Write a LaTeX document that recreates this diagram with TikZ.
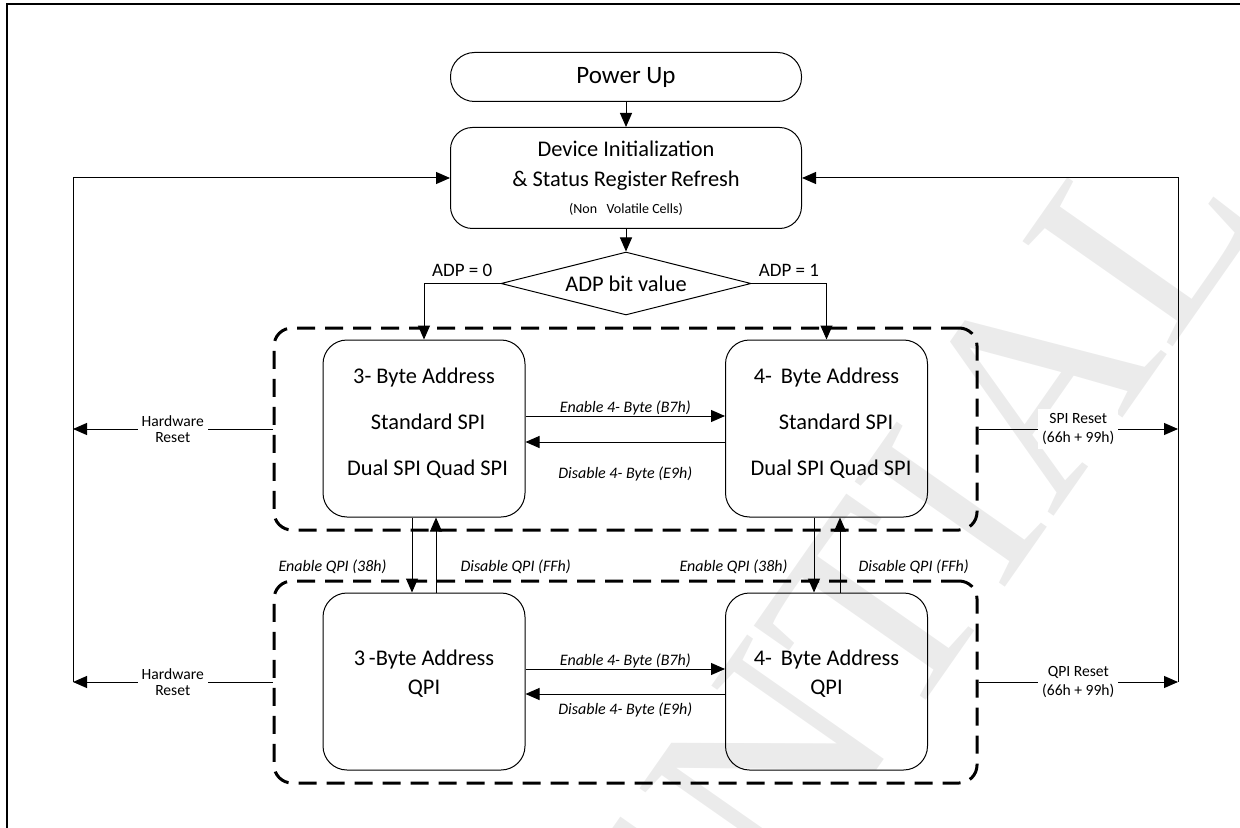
\documentclass[tikz,border=0pt]{standalone}
\usepackage{fontspec}
\setmainfont{Carlito}
\newfontfamily\wmfont{Liberation Serif}
\usetikzlibrary{arrows.meta,shapes.geometric}

\begin{document}
\begin{tikzpicture}[x=0.5pt, y=-0.5pt, line width=0.5pt,
  arr/.style={-{Triangle[length=7pt,width=6pt]}},
  mode/.style={rectangle, draw, rounded corners=12pt, minimum width=101pt, minimum height=88.5pt},
  mtext/.style={align=center, font=\fontsize{11.2}{13.5}\selectfont},
  group/.style={rectangle, draw, line width=1.5pt, dash pattern=on 9pt off 5pt, rounded corners=9pt, minimum width=351.5pt, minimum height=101pt},
  lbl/.style={font=\itshape\fontsize{8}{9.5}\selectfont, inner sep=0pt},
  rst/.style={fill=white, align=center, inner sep=2pt, font=\fontsize{7.8}{9.8}\selectfont}]

\useasboundingbox (0,0) rectangle (1240,828);

\node [rotate=55, anchor=base east, text=black!8, font=\wmfont\fontsize{140}{140}\selectfont] (wmark) at (1271,207) {CONFIDENTIAL};

% frame
\draw [line width=1pt] (7,828) -- (7,4) -- (1240,4);

\node [rectangle, draw, rounded corners=12pt, minimum width=175.5pt, minimum height=24.5pt, font=\fontsize{12.5}{15}\selectfont] (power) at (626,77) {Power Up};
\node [rectangle, draw, rounded corners=11pt, minimum width=175.5pt, minimum height=50.5pt, align=center, font=\fontsize{11.2}{15}\selectfont] (init) at (626,178) {Device Initialization\\\& Status Register\,Refresh\\[-1.5pt]{\fontsize{7}{8}\selectfont (Non\ \ \ Volatile Cells)}};
\node [diamond, draw, aspect=4, inner sep=0pt, minimum width=125pt, minimum height=31.5pt, font=\fontsize{11.2}{13.5}\selectfont] (adp) at (626,283.5) {ADP bit value};

\node [group] (grpspi) at (625.5,429) {};
\node [group] (grpqpi) at (625.5,682) {};

\node [mode, label={[mtext, yshift=2.75pt]center:3- Byte Address\\[9.5pt]\hspace*{4pt}Standard SPI\\[9.5pt]\hspace*{3.5pt}Dual SPI Quad SPI}] (spi3) at (424,428.5) {};
\node [mode, label={[mtext, yshift=2.75pt]center:4-\ \,Byte Address\\[9.5pt]\hspace*{9.5pt}Standard SPI\\[9.5pt]\hspace*{4.5pt}Dual SPI Quad SPI}] (spi4) at (826.5,428.5) {};
\node [mode, label={[mtext, yshift=4pt]center:3\,-Byte Address\\[1pt]QPI}] (qpi3) at (424,681.5) {};
\node [mode, label={[mtext, yshift=4pt]center:4-\ \,Byte Address\\[1pt]QPI}] (qpi4) at (826.5,681.5) {};

\coordinate (lb) at (73,682);
\coordinate (rb) at (1178,682);

\draw [arr] (power) -- (init);
\draw [arr] (init) -- (adp);
\draw [arr] (adp.west) -| (spi3.north) node [pos=0.25, above, font=\fontsize{9.5}{11}\selectfont] {ADP = 0};
\draw [arr] (adp.east) -| (spi4.north) node [pos=0.25, above, font=\fontsize{9.5}{11}\selectfont] {ADP = 1};

\draw [arr] ([yshift=6.25pt]spi3.east) -- ([yshift=6.25pt]spi4.west) node [midway, above, lbl] {Enable 4-\ Byte (B7h)};
\draw [arr] ([yshift=-6.75pt]spi4.west) -- ([yshift=-6.75pt]spi3.east) node [midway, below=12pt, lbl] {Disable 4-\ Byte (E9h)};
\draw [arr] ([yshift=6.25pt]qpi3.east) -- ([yshift=6.25pt]qpi4.west) node [midway, above, lbl] {Enable 4-\ Byte (B7h)};
\draw [arr] ([yshift=-6.25pt]qpi4.west) -- ([yshift=-6.25pt]qpi3.east) node [midway, below=4pt, lbl] {Disable 4-\ Byte (E9h)};

\draw [arr] ([xshift=-6pt]spi3.south) -- ([xshift=-6pt]qpi3.north) node [pos=0.66, left=12.5pt, lbl] {Enable QPI (38h)};
\draw [arr] ([xshift=6pt]qpi3.north) -- ([xshift=6pt]spi3.south) node [pos=0.34, right=12pt, lbl] {Disable QPI (FFh)};
\draw [arr] ([xshift=-6.25pt]spi4.south) -- ([xshift=-6.25pt]qpi4.north) node [pos=0.66, left=13pt, lbl] {Enable QPI (38h)};
\draw [arr] ([xshift=6.75pt]qpi4.north) -- ([xshift=6.75pt]spi4.south) node [pos=0.34, right=9pt, lbl] {Disable QPI (FFh)};

\draw [arr] (lb) |- (init.west);
\draw [arr] (rb) |- (init.east);
\draw [arr] (grpspi.west) -- (grpspi.west -| lb) node [midway, rst] {Hardware\\[-1.5pt]Reset};
\draw [arr] (grpqpi.west) -- (grpqpi.west -| lb) node [midway, rst] {Hardware\\[-1.5pt]Reset};
\draw [arr] (grpspi.east) -- (grpspi.east -| rb) node [midway, rst] {SPI Reset\\(66h + 99h)};
\draw [arr] (grpqpi.east) -- (grpqpi.east -| rb) node [midway, rst] {QPI Reset\\(66h + 99h)};

\end{tikzpicture}
\end{document}
